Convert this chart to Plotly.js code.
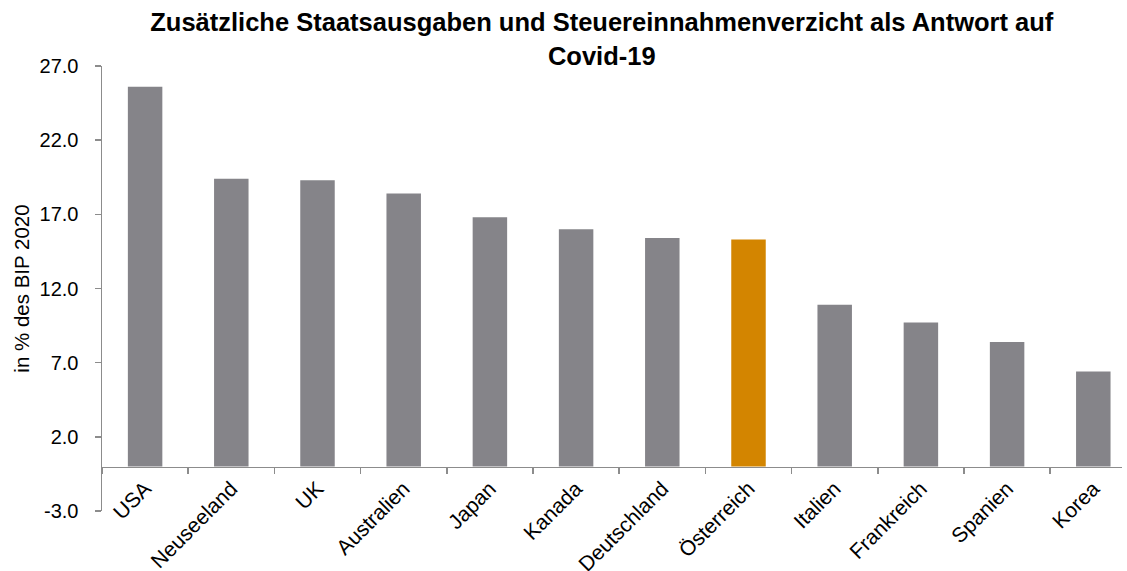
<!DOCTYPE html>
<html>
<head>
<meta charset="utf-8">
<script src="https://cdn.plot.ly/plotly-3.0.1.min.js"></script>
<style>
html,body{margin:0;padding:0;background:#fff;}
#chart{width:1127px;height:571px;}
</style>
</head>
<body>
<div id="chart"></div>
<script>
const countries = ["USA","Neuseeland","UK","Australien","Japan","Kanada","Deutschland","Österreich","Italien","Frankreich","Spanien","Korea"];
const values = [25.6, 19.4, 19.3, 18.4, 16.8, 16.0, 15.4, 15.3, 10.9, 9.7, 8.4, 6.4];
const highlight = "Österreich";
const yTickVals = [-3, 2, 7, 12, 17, 22, 27];
const yTickText = ["-3.0", "2.0", "7.0", "12.0", "17.0", "22.0", "27.0"];

const grey = "#858489";
const orange = "#D38500";
const colors = countries.map(c => c === highlight ? orange : grey);
const FONT = "Liberation Sans, Arial, sans-serif";

const data = [{
  type: "bar",
  x: countries,
  y: values,
  marker: {color: colors, line: {width: 0}},
  hoverinfo: "x+y"
}];

const layout = {
  width: 1127,
  height: 571,
  margin: {l: 102, r: 5, t: 66, b: 60, pad: 0},
  paper_bgcolor: "#ffffff",
  plot_bgcolor: "#ffffff",
  showlegend: false,
  bargap: 0.6,
  font: {family: FONT, color: "#000000", size: 19},
  title: {
    text: "Zusätzliche Staatsausgaben und Steuereinnahmenverzicht als Antwort auf<br>Covid-19",
    font: {family: FONT, size: 25.5, color: "#000000", weight: "bold"},
    xref: "paper",
    x: 0.49,
    xanchor: "center",
    yref: "container",
    y: 0.945,
    yanchor: "top"
  },
  xaxis: {
    type: "category",
    range: [-0.5, 11.333],
    anchor: "free",
    position: 0.1,
    showline: true,
    linecolor: "#8c8c8c",
    linewidth: 1.5,
    ticks: "outside",
    tickson: "boundaries",
    ticklen: 6,
    tickwidth: 1.5,
    tickcolor: "#8c8c8c",
    tickangle: -45,
    tickfont: {family: FONT, size: 21, color: "#000000"},
    showgrid: false,
    zeroline: false,
    automargin: false
  },
  yaxis: {
    range: [-3, 27],
    tickmode: "array",
    tickvals: yTickVals,
    ticktext: yTickText,
    showline: true,
    linecolor: "#8c8c8c",
    linewidth: 1.5,
    ticks: "outside",
    ticklen: 6,
    tickwidth: 1.5,
    tickcolor: "#8c8c8c",
    ticklabelstandoff: 12,
    tickfont: {family: FONT, size: 20, color: "#000000"},
    showgrid: false,
    zeroline: false,
    automargin: false,
    title: {
      text: "in % des BIP 2020",
      font: {family: FONT, size: 20.5, color: "#000000"},
      standoff: 4
    }
  }
};

Plotly.newPlot("chart", data, layout, {displayModeBar: false, staticPlot: true});
</script>
</body>
</html>
